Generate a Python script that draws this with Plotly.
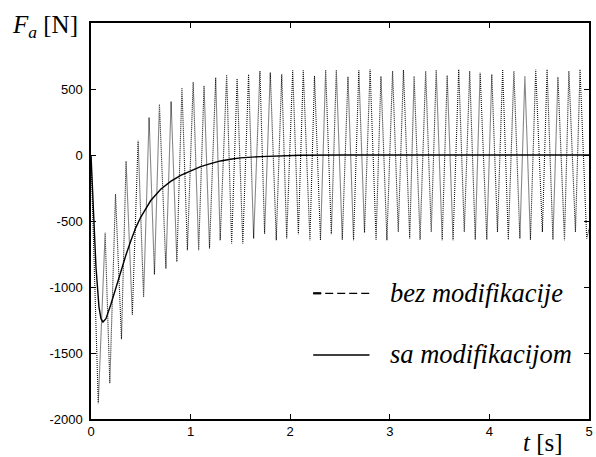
import plotly.graph_objects as go

# --- data ---
# "bez modifikacije": oscillating force, listed by its successive extrema (t [s], F [N])
t_bez = [0.0, 0.073, 0.142, 0.189, 0.246, 0.306, 0.352, 0.415, 0.473, 0.528, 0.583,
         0.637, 0.687, 0.752, 0.804, 0.862, 0.913, 0.968, 1.026, 1.081, 1.135,
         1.190, 1.252, 1.297, 1.362, 1.412, 1.467, 1.524, 1.582, 1.633, 1.696,
         1.743, 1.800, 1.860, 1.915, 1.965, 2.025, 2.082, 2.131, 2.198, 2.244,
         2.304, 2.356, 2.413, 2.463, 2.523, 2.580, 2.636, 2.689, 2.746, 2.802,
         2.862, 2.911, 2.971, 3.028, 3.085, 3.137, 3.200, 3.244, 3.304, 3.360,
         3.416, 3.466, 3.526, 3.576, 3.635, 3.692, 3.748, 3.802, 3.858, 3.907,
         3.974, 4.024, 4.081, 4.133, 4.190, 4.246, 4.306, 4.356, 4.412, 4.465,
         4.532, 4.579, 4.638, 4.688, 4.754, 4.798, 4.864, 4.910, 4.977, 5.0]
f_bez = [0, -1880, -590, -1730, -295, -1395, -45, -1210, 108, -1075, 284,
         -905, 385, -860, 405, -809, 510, -721, 553, -721, 525,
         -709, 586, -646, 608, -671, 578, -671, 611, -633, 638,
         -596, 625, -646, 611, -633, 641, -601, 641, -646, 598,
         -646, 645, -601, 643, -641, 593, -646, 641, -588, 648,
         -641, 596, -646, 636, -583, 643, -633, 598, -641, 636,
         -583, 643, -646, 603, -646, 648, -583, 636, -641, 623,
         -641, 611, -583, 648, -641, 636, -633, 598, -641, 648,
         -583, 648, -641, 593, -646, 636, -583, 648, -633, -560]

# "sa modifikacijom": damped response
t_sa = [0.0, 0.02, 0.05, 0.08, 0.10, 0.12, 0.15, 0.20, 0.25, 0.30, 0.35, 0.40,
        0.45, 0.50, 0.60, 0.70, 0.80, 0.90, 1.00, 1.10, 1.20, 1.30, 1.40, 1.50,
        1.70, 1.90, 2.10, 2.50, 5.0]
f_sa = [0, -300, -850, -1150, -1240, -1265, -1240, -1130, -1000, -885, -760, -650,
        -550, -470, -345, -260, -200, -155, -120, -88, -65, -45, -32, -22,
        -12, -6, -2, 0, 0]

x_ticks = [0, 1, 2, 3, 4, 5]
x_ticklabels = ["0", "1", "2", "3", "4", "5"]
y_ticks = [-2000, -1500, -1000, -500, 0, 500]
y_ticklabels = ["-2000", "-1500", "-1000", "-500", "0", "500"]

legend_names = ["bez modifikacije", "sa modifikacijom"]

fig = go.Figure()
fig.add_trace(go.Scatter(x=t_bez, y=f_bez, mode="lines", name=legend_names[0],
                         line=dict(color="#111111", width=1.1, dash="1px,1px"),
                         showlegend=False))
fig.add_trace(go.Scatter(x=t_sa, y=f_sa, mode="lines", name=legend_names[1],
                         line=dict(color="black", width=1.4),
                         showlegend=False))

axis_common = dict(showline=True, linecolor="black", linewidth=1.5, mirror="ticks",
                   ticks="inside", ticklen=5, tickwidth=1, tickcolor="black",
                   showgrid=False, zeroline=False,
                   tickfont=dict(family="Liberation Sans", size=13, color="black"))

fig.update_xaxes(range=[0, 5], tickvals=x_ticks, ticktext=x_ticklabels, **axis_common)
fig.update_yaxes(range=[-2000, 1000], tickvals=y_ticks, ticktext=y_ticklabels,
                 ticklabelstandoff=4, **axis_common)

serif = "Liberation Serif"
annotations = [
    dict(text="<i>F</i><sub><i>a</i></sub> [N]", x=-0.0916, y=0.99, xref="paper", yref="paper",
         xanchor="center", yanchor="middle", showarrow=False,
         font=dict(family=serif, size=25, color="black")),
    dict(text="<i>t</i> [s]", x=0.908, y=-0.059, xref="paper", yref="paper",
         xanchor="center", yanchor="middle", showarrow=False,
         font=dict(family=serif, size=25, color="black")),
    dict(text="<i>" + legend_names[0] + "</i>", x=0.597, y=0.318, xref="paper", yref="paper",
         xanchor="left", yanchor="middle", showarrow=False,
         font=dict(family=serif, size=26.5, color="black")),
    dict(text="<i>" + legend_names[1] + "</i>", x=0.597, y=0.165, xref="paper", yref="paper",
         xanchor="left", yanchor="middle", showarrow=False,
         font=dict(family=serif, size=26.5, color="black")),
]

shapes = [
    dict(type="line", xref="paper", yref="paper", x0=0.4462, x1=0.5592, y0=0.3174, y1=0.3174,
         line=dict(color="black", width=1.2, dash="8px,4px")),
    dict(type="line", xref="paper", yref="paper", x0=0.4462, x1=0.4622, y0=0.3174, y1=0.3174,
         line=dict(color="black", width=2.2)),
    dict(type="line", xref="paper", yref="paper", x0=0.4462, x1=0.5592, y0=0.1616, y1=0.1616,
         line=dict(color="black", width=1.5)),
]

fig.update_layout(width=596, height=457, margin=dict(l=91, r=3, t=23, b=38),
                  paper_bgcolor="white", plot_bgcolor="white",
                  annotations=annotations, shapes=shapes, showlegend=False)

fig.write_html("out.html")
